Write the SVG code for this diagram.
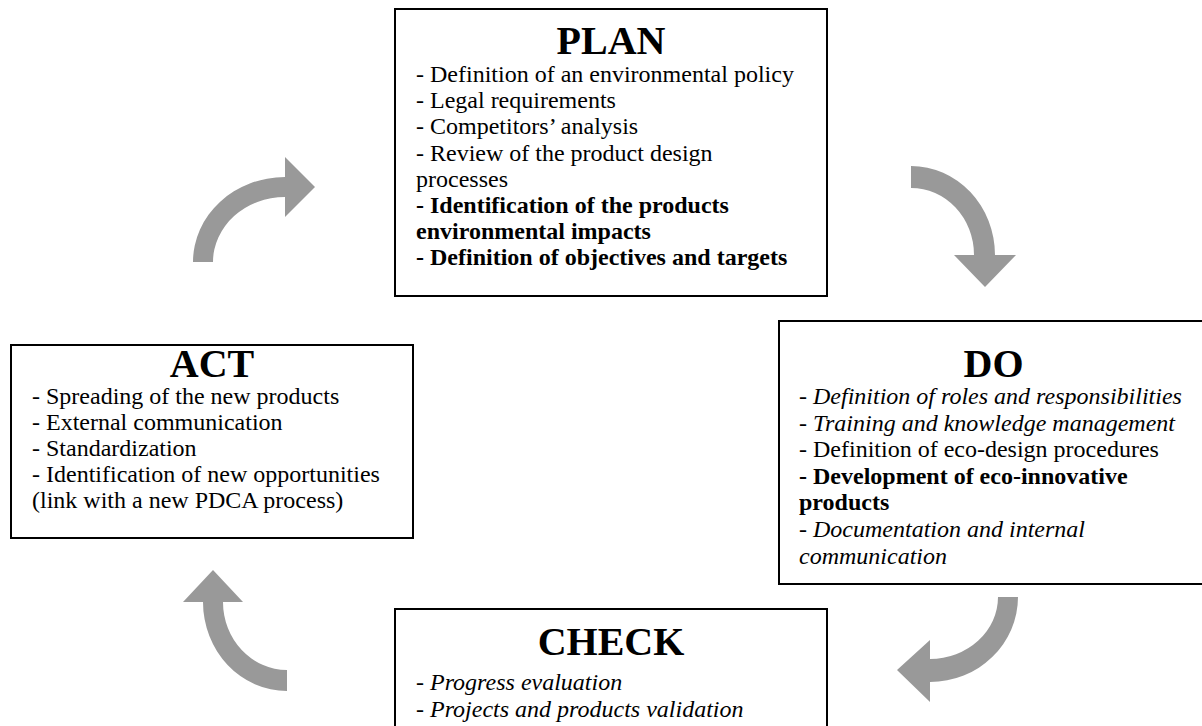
<svg xmlns="http://www.w3.org/2000/svg" width="1202" height="726" viewBox="0 0 1202 726">
<style>
.box{fill:#fff;stroke:#000;stroke-width:2}
.t{font-family:"Liberation Serif","Times New Roman",serif;font-size:24px;fill:#000}
.title{font-family:"Liberation Serif","Times New Roman",serif;font-size:40px;font-weight:bold;fill:#000;text-anchor:middle}
.b{font-weight:bold}
.i{font-style:italic}
.arrow{fill:#999999;stroke:none}
</style>
<rect width="1202" height="726" fill="#fff"/>
<g id="connectors">
<path class="arrow" d="M193,262 A92,85 0 0 1 285,177 L285,157 L315,187 L285,217 L285,197 A72,65 0 0 0 213,262 Z"/>
<path class="arrow" d="M911,166 A84,89 0 0 1 995,255 L1016,255 L985,287 L954,255 L974,255 A63,67 0 0 0 911,188 Z"/>
<path class="arrow" d="M1018,597 A88,85 0 0 1 930,682 L930,702 L897,670 L930,640 L930,659 A68,62 0 0 0 998,597 Z"/>
<path class="arrow" d="M287,691 A84,89 0 0 1 203,602 L183,602 L213,570 L243,602 L223,602 A64,68 0 0 0 287,670 Z"/>
</g>
<g id="plan">
<rect class="box" x="395" y="9" width="432" height="287"/>
<text class="title" x="611" y="54">PLAN</text>
<text class="t" x="416" y="82">- Definition of an environmental policy</text>
<text class="t" x="416" y="108.2">- Legal requirements</text>
<text class="t" x="416" y="134.4">- Competitors’ analysis</text>
<text class="t" x="416" y="160.6">- Review of the product design</text>
<text class="t" x="416" y="186.8">processes</text>
<text class="t b" x="416" y="213">- Identification of the products</text>
<text class="t b" x="416" y="239.2">environmental impacts</text>
<text class="t b" x="416" y="265.4">- Definition of objectives and targets</text>
</g>
<g id="do">
<rect class="box" x="779" y="321" width="429" height="263"/>
<text class="title" x="993.5" y="377">DO</text>
<text class="t i" x="799" y="404">- Definition of roles and responsibilities</text>
<text class="t i" x="799" y="430.6">- Training and knowledge management</text>
<text class="t" x="799" y="457.2">- Definition of eco-design procedures</text>
<text class="t b" x="799" y="483.8">- Development of eco-innovative</text>
<text class="t b" x="799" y="510.4">products</text>
<text class="t i" x="799" y="537">- Documentation and internal</text>
<text class="t i" x="799" y="563.6">communication</text>
</g>
<g id="check">
<rect class="box" x="395" y="609" width="432" height="140"/>
<text class="title" x="611" y="655">CHECK</text>
<text class="t i" x="416" y="690">- Progress evaluation</text>
<text class="t i" x="416" y="716.5">- Projects and products validation</text>
</g>
<g id="act">
<rect class="box" x="11" y="345" width="402" height="193"/>
<text class="title" x="212" y="377">ACT</text>
<text class="t" x="32" y="404">- Spreading of the new products</text>
<text class="t" x="32" y="430">- External communication</text>
<text class="t" x="32" y="456">- Standardization</text>
<text class="t" x="32" y="482">- Identification of new opportunities</text>
<text class="t" x="32" y="508">(link with a new PDCA process)</text>
</g>
</svg>
